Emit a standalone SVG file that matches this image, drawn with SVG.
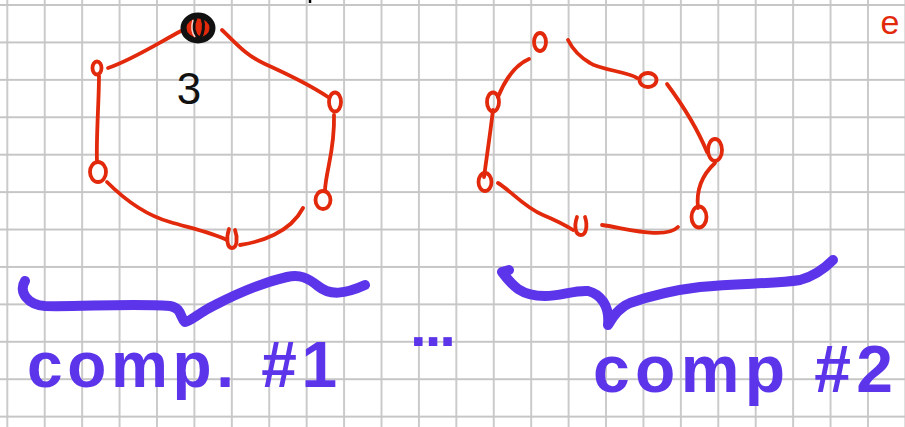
<svg xmlns="http://www.w3.org/2000/svg" width="905" height="427" viewBox="0 0 905 427">
<defs>
<pattern id="grid" patternUnits="userSpaceOnUse" x="-11.4" y="-13.7" width="37.42" height="37.42">
<path d="M18.71,0 V37.42 M0,18.71 H37.42" stroke="#c6c6c6" stroke-width="1.8" fill="none"/>
</pattern>
</defs>
<style>
.edge{fill:none;stroke:#e2290c;stroke-width:3.8;stroke-linecap:round;stroke-linejoin:round}
.node{fill:none;stroke:#e2290c;stroke-width:3.8}
.brace{fill:none;stroke:#5c34ea;stroke-width:10;stroke-linecap:round;stroke-linejoin:round}
.hand{font-family:"Liberation Sans",Arial,sans-serif;font-weight:bold;fill:#5c34ea}
</style>
<rect width="905" height="427" fill="#ffffff"/>
<rect width="905" height="427" fill="url(#grid)"/>
<path d="M310,0 V3" stroke="#000" stroke-width="2.5"/>

<g id="connectors">
<path class="edge" d="M181,31 C160,42 132,60 108,68"/>
<path class="edge" d="M99,76 C99,100 96,140 97,162"/>
<path class="edge" d="M107,182 C125,200 145,215 170,222 C190,228 210,232 227,240"/>
<path class="edge" d="M240,245 C260,242 290,233 303,208"/>
<path class="edge" d="M325,190 C326,170 335,150 334,115"/>
<path class="edge" d="M328,97 C310,85 285,73 265,64 C245,55 235,42 222,30"/>
<path class="edge" d="M529,59 C515,65 505,80 498,97"/>
<path class="edge" d="M493,110 C490,135 487,155 484,177"/>
<path class="edge" d="M498,183 C510,190 525,208 543,215 C555,220 565,225 573,230"/>
<path class="edge" d="M602,225 C625,228 665,240 678,227"/>
<path class="edge" d="M698,208 C696,190 702,175 715,163"/>
<path class="edge" d="M707,152 C700,135 690,115 667,84"/>
<path class="edge" d="M637,78 C630,72 600,70 590,63 C580,57 573,50 568,40"/>
</g>

<g id="c1-top">
<ellipse cx="198" cy="28" rx="14.5" ry="12.5" fill="#e2290c" stroke="#111" stroke-width="6"/>
<path d="M196,18 C192,26 194,34 199,38 M202,18 C205,26 203,34 200,38" stroke="#111" stroke-width="3" fill="none"/>
<path d="M193,20 C191,27 192,33 195,37" stroke="#fff" stroke-width="1.5" fill="none" opacity="0.8"/>
</g>
<g id="c1-upper-left"><ellipse class="node" cx="97" cy="68" rx="4.5" ry="6.5"/></g>
<g id="c1-left-bottom"><ellipse class="node" cx="98" cy="172" rx="8" ry="10"/></g>
<g id="c1-bottom"><path class="node" d="M229,229 C226,238 227,248 232,248 C237,248 238,238 235,230" fill="none" stroke-linecap="round"/></g>
<g id="c1-right-bottom"><ellipse class="node" cx="323" cy="200" rx="7.5" ry="9"/></g>
<g id="c1-right-top"><ellipse class="node" cx="335" cy="102" rx="6" ry="9.5"/></g>
<text x="189" y="104" font-family="Liberation Sans,Arial,sans-serif" font-size="44" fill="#111" text-anchor="middle">3</text>

<g id="c2-top"><ellipse class="node" cx="540" cy="42" rx="6" ry="9"/></g>
<g id="c2-upper-right"><ellipse class="node" cx="648" cy="80" rx="8.5" ry="7"/></g>
<g id="c2-left-top"><ellipse class="node" cx="493" cy="102" rx="6" ry="9.5"/></g>
<g id="c2-right-middle"><ellipse class="node" cx="715" cy="150" rx="7" ry="11"/></g>
<g id="c2-left-bottom"><ellipse class="node" cx="485" cy="182" rx="6.5" ry="9"/></g>
<g id="c2-right-bottom"><ellipse class="node" cx="699" cy="217" rx="7.5" ry="10.5"/></g>
<g id="c2-bottom"><path class="node" d="M577,217 C574,226 575,235 581,235 C586,235 588,226 585,217" fill="none" stroke-linecap="round"/></g>
<text x="890" y="34" font-family="Liberation Sans,Arial,sans-serif" font-size="34" fill="#e2290c" text-anchor="middle">e</text>

<path class="brace" d="M25,281 C18,292 28,305 45,306 C80,307 130,303 170,306 C182,308 180,318 185,322 C190,322 200,312 215,305 C240,292 265,282 287,277 C300,274 308,278 318,286 C330,296 345,294 365,285"/>
<path class="brace" d="M502,272 L509,270 M502,272 C512,285 520,296 545,296 C560,296 575,290 588,291 C600,294 610,305 608,325 C612,318 618,308 630,303 C650,296 675,290 700,287 C740,283 775,284 800,280 C815,276 825,268 833,260"/>

<text class="hand" x="27" y="387" font-size="64" textLength="310" lengthAdjust="spacing">comp. #1</text>
<text class="hand" x="410" y="346" font-size="60" textLength="46" lengthAdjust="spacing">...</text>
<text class="hand" x="593" y="392" font-size="66" textLength="300" lengthAdjust="spacing">comp #2</text>
</svg>
